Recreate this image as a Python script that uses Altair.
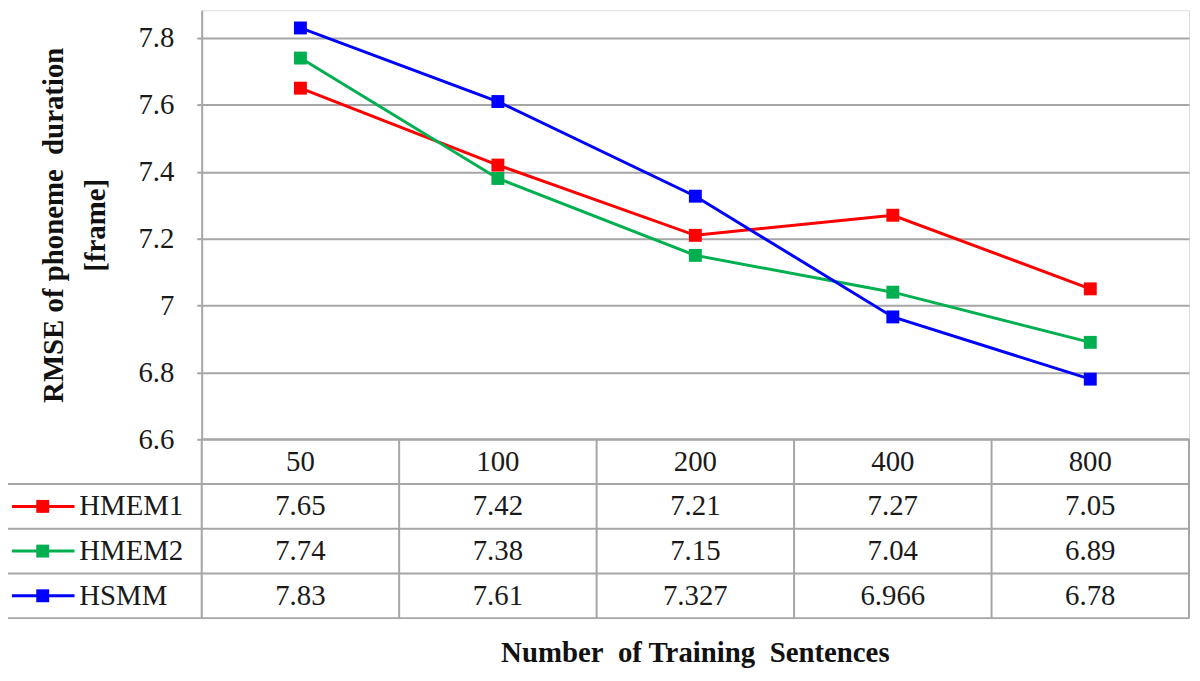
import altair as alt
import pandas as pd

# ---- data ----
categories = ["50", "100", "200", "400", "800"]
series_names = ["HMEM1", "HMEM2", "HSMM"]
hmem1 = [7.65, 7.42, 7.21, 7.27, 7.05]
hmem2 = [7.74, 7.38, 7.15, 7.04, 6.89]
hsmm = [7.83, 7.61, 7.327, 6.966, 6.78]
y_ticks = [6.6, 6.8, 7.0, 7.2, 7.4, 7.6, 7.8]
colors = ["#FF0000", "#00B050", "#0000FF"]
y_title = ["RMSE of phoneme\u00a0 duration", "[frame]"]
x_title = "Number\u00a0 of Training\u00a0 Sentences"

series_values = {"HMEM1": hmem1, "HMEM2": hmem2, "HSMM": hsmm}

# ---- layout constants ----
W = 994          # plot width (data columns)
PH = 432         # line-plot height
TH = 180         # table height (header + 3 rows)
FONT = "Times New Roman, Liberation Serif, DejaVu Serif, serif"
GRID = "#a6a6a6"
TXT = "#1a1a1a"
FS = 29

n_cols = len(categories)
n_rows = len(series_names) + 1

rows = []
for si, s in enumerate(series_names):
    for ci, c in enumerate(categories):
        v = series_values[s][ci]
        rows.append({"series": s, "cat": c, "xpos": ci + 0.5, "value": v,
                     "label": str(v), "row": si + 1.5})
df = pd.DataFrame(rows)

hdr = pd.DataFrame({"cat": categories, "xpos": [i + 0.5 for i in range(n_cols)],
                    "row": [0.5] * n_cols})

leg = pd.DataFrame({"series": series_names,
                    "row": [i + 1.5 for i in range(len(series_names))],
                    "kx1": [-0.961] * len(series_names),
                    "kx2": [-0.644] * len(series_names),
                    "kxm": [-0.805] * len(series_names),
                    "tx": [-0.62] * len(series_names)})

hlines = pd.DataFrame({"y": list(range(n_rows + 1)),
                       "x1": [0] + [-1] * n_rows,
                       "x2": [n_cols] * (n_rows + 1)})
vlines = pd.DataFrame({"x": [-1] + list(range(n_cols + 1)),
                       "y1": [1] + [0] * (n_cols + 1),
                       "y2": [n_rows] * (n_cols + 2)})

xs = alt.Scale(domain=[0, n_cols], nice=False, zero=False)
yv = alt.Scale(domain=[6.6, 7.883], range=[PH, 0], nice=False, zero=False)
yt = alt.Scale(domain=[0, n_rows], range=[PH, PH + TH], nice=False, zero=False)
cs = alt.Scale(domain=series_names, range=colors)

yaxis = alt.Axis(values=y_ticks, format=".1~f", grid=True, gridColor=GRID, gridWidth=2,
                 domain=True, domainColor=GRID, domainWidth=2,
                 ticks=True, tickSize=5, tickColor=GRID, tickWidth=2,
                 labelFont=FONT, labelFontSize=FS, labelColor=TXT, labelPadding=23,
                 title=y_title, titleFont=FONT, titleFontSize=29, titleFontWeight="bold",
                 titleColor="#111111", titlePadding=28, titleLineHeight=42)

lines = alt.Chart(df).mark_line(strokeWidth=3).encode(
    x=alt.X("xpos:Q", scale=xs, axis=None),
    y=alt.Y("value:Q", scale=yv, axis=yaxis),
    color=alt.Color("series:N", scale=cs, legend=None),
)
points = alt.Chart(df).mark_square(size=169, opacity=1).encode(
    x=alt.X("xpos:Q", scale=xs, axis=None),
    y=alt.Y("value:Q", scale=yv, axis=None),
    color=alt.Color("series:N", scale=cs, legend=None),
)

hrules = alt.Chart(hlines).mark_rule(color=GRID, strokeWidth=2).encode(
    x=alt.X("x1:Q", scale=xs, axis=None), x2="x2:Q",
    y=alt.Y("y:Q", scale=yt, axis=None),
)
vrules = alt.Chart(vlines).mark_rule(color=GRID, strokeWidth=2).encode(
    x=alt.X("x:Q", scale=xs, axis=None),
    y=alt.Y("y1:Q", scale=yt, axis=None), y2="y2:Q",
)

hdr_text = alt.Chart(hdr).mark_text(font=FONT, fontSize=FS, color=TXT,
                                    align="center", baseline="middle").encode(
    x=alt.X("xpos:Q", scale=xs, axis=None),
    y=alt.Y("row:Q", scale=yt, axis=None),
    text="cat:N",
)
cell_text = alt.Chart(df).mark_text(font=FONT, fontSize=FS, color=TXT,
                                    align="center", baseline="middle").encode(
    x=alt.X("xpos:Q", scale=xs, axis=None),
    y=alt.Y("row:Q", scale=yt, axis=None),
    text="label:N",
)
key_line = alt.Chart(leg).mark_rule(strokeWidth=3).encode(
    x=alt.X("kx1:Q", scale=xs, axis=None), x2="kx2:Q",
    y=alt.Y("row:Q", scale=yt, axis=None),
    color=alt.Color("series:N", scale=cs, legend=None),
)
key_sq = alt.Chart(leg).mark_square(size=169, opacity=1).encode(
    x=alt.X("kxm:Q", scale=xs, axis=None),
    y=alt.Y("row:Q", scale=yt, axis=None),
    color=alt.Color("series:N", scale=cs, legend=None),
)
key_text = alt.Chart(leg).mark_text(font=FONT, fontSize=FS, color=TXT,
                                    align="left", baseline="middle").encode(
    x=alt.X("tx:Q", scale=xs, axis=None),
    y=alt.Y("row:Q", scale=yt, axis=None),
    text="series:N",
)

chart = alt.layer(
    lines, points, hrules, vrules, hdr_text, cell_text, key_line, key_sq, key_text
).resolve_scale(y="independent").properties(
    width=W, height=PH + TH,
    autosize=alt.AutoSizeParams(type="none"),
    padding={"left": 195, "top": 0, "right": 3, "bottom": 55},
    title=alt.TitleParams(x_title, orient="bottom", frame="group", anchor="middle",
                          font=FONT, fontSize=29, fontWeight="bold", color="#111111",
                          offset=20),
).configure_view(stroke=None).configure(background="white")

chart.save("out.html", embed_options={"renderer": "svg", "actions": False})
